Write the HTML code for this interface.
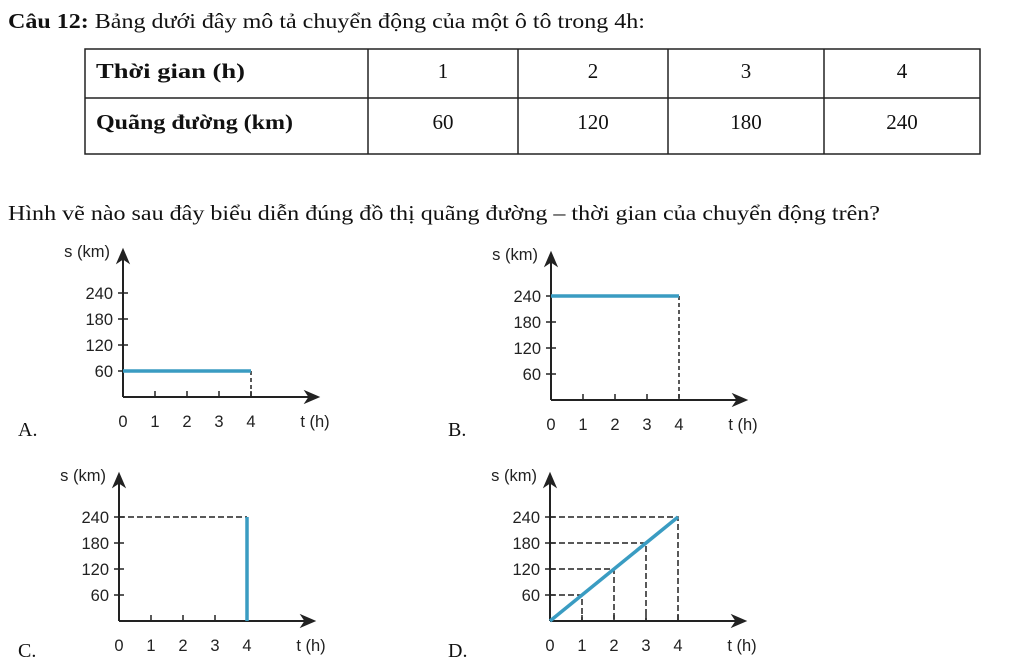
<!DOCTYPE html>
<html><head><meta charset="utf-8"><style>
html,body{margin:0;padding:0;background:#fff;}
svg{display:block}
.s{font-family:"Liberation Serif",serif;fill:#111}
.g{font-family:"Liberation Sans",sans-serif;font-size:16.5px;fill:#222}
</style></head><body>
<svg width="1024" height="670" viewBox="0 0 1024 670" xmlns="http://www.w3.org/2000/svg">
<defs>
<g id="ax">
  <line x1="0" y1="0" x2="0" y2="-140" stroke="#222" stroke-width="2"/>
  <path d="M-6,-134 L0,-148 L6,-134 L0,-138 Z" fill="#222" stroke="#222" stroke-width="1"/>
  <line x1="0" y1="0" x2="190" y2="0" stroke="#222" stroke-width="2"/>
  <path d="M182,-6 L196,0 L182,6 L186,0 Z" fill="#222" stroke="#222" stroke-width="1"/>
  <g stroke="#222" stroke-width="1.5">
    <line x1="-5" y1="-26" x2="5" y2="-26"/><line x1="-5" y1="-52" x2="5" y2="-52"/>
    <line x1="-5" y1="-78" x2="5" y2="-78"/><line x1="-5" y1="-104" x2="5" y2="-104"/>
    <line x1="32" y1="0" x2="32" y2="-6"/><line x1="64" y1="0" x2="64" y2="-6"/>
    <line x1="96" y1="0" x2="96" y2="-6"/><line x1="128" y1="0" x2="128" y2="-6"/>
  </g>
  <g class="g" text-anchor="end">
    <text x="-10" y="-20">60</text><text x="-10" y="-46">120</text>
    <text x="-10" y="-72">180</text><text x="-10" y="-98">240</text>
    <text x="-13" y="-140">s (km)</text>
  </g>
  <g class="g" text-anchor="middle">
    <text x="0" y="30">0</text><text x="32" y="30">1</text><text x="64" y="30">2</text>
    <text x="96" y="30">3</text><text x="128" y="30">4</text>
    <text x="192" y="30">t (h)</text>
  </g>
</g>
</defs>

<text class="s" x="8" y="28" font-size="21" textLength="637" lengthAdjust="spacingAndGlyphs"><tspan font-weight="bold">Câu 12:</tspan> Bảng dưới đây mô tả chuyển động của một ô tô trong 4h:</text>

<g stroke="#222" stroke-width="1.5" fill="none">
  <rect x="85" y="49" width="895" height="105"/>
  <line x1="85" y1="98" x2="980" y2="98"/>
  <line x1="368" y1="49" x2="368" y2="154"/>
  <line x1="518" y1="49" x2="518" y2="154"/>
  <line x1="668" y1="49" x2="668" y2="154"/>
  <line x1="824" y1="49" x2="824" y2="154"/>
</g>
<g class="s" font-size="21">
  <text x="96" y="78" font-weight="bold" textLength="149" lengthAdjust="spacingAndGlyphs">Thời gian (h)</text>
  <text x="96" y="129" font-weight="bold" textLength="197" lengthAdjust="spacingAndGlyphs">Quãng đường (km)</text>
  <g text-anchor="middle">
    <text x="443" y="78">1</text><text x="593" y="78">2</text><text x="746" y="78">3</text><text x="902" y="78">4</text>
    <text x="443" y="129">60</text><text x="593" y="129">120</text><text x="746" y="129">180</text><text x="902" y="129">240</text>
  </g>
</g>

<text class="s" x="8" y="220" font-size="21" textLength="872" lengthAdjust="spacingAndGlyphs">Hình vẽ nào sau đây biểu diễn đúng đồ thị quãng đường – thời gian của chuyển động trên?</text>

<g class="s" font-size="20">
  <text x="18" y="436">A.</text><text x="448" y="436">B.</text>
  <text x="18" y="657">C.</text><text x="448" y="657">D.</text>
</g>

<g transform="translate(123,397)">
  <use href="#ax"/>
  <line x1="128" y1="-26" x2="128" y2="0" stroke="#222" stroke-width="1.5" stroke-dasharray="4,3"/>
  <line x1="0" y1="-26" x2="128" y2="-26" stroke="#3a9cc2" stroke-width="3.5"/>
</g>
<g transform="translate(551,400)">
  <use href="#ax"/>
  <line x1="128" y1="-104" x2="128" y2="0" stroke="#222" stroke-width="1.5" stroke-dasharray="4,3"/>
  <line x1="0" y1="-104" x2="128" y2="-104" stroke="#3a9cc2" stroke-width="3.5"/>
</g>
<g transform="translate(119,621)">
  <use href="#ax"/>
  <line x1="0" y1="-104" x2="128" y2="-104" stroke="#222" stroke-width="1.5" stroke-dasharray="6,3"/>
  <line x1="128" y1="-104" x2="128" y2="0" stroke="#3a9cc2" stroke-width="3.5"/>
</g>
<g transform="translate(550,621)">
  <use href="#ax"/>
  <g stroke="#222" stroke-width="1.5" stroke-dasharray="6,3" fill="none">
    <path d="M0,-26 H32 V0"/><path d="M0,-52 H64 V0"/>
    <path d="M0,-78 H96 V0"/><path d="M0,-104 H128 V0"/>
  </g>
  <line x1="0" y1="0" x2="128" y2="-104" stroke="#3a9cc2" stroke-width="3.5"/>
</g>
</svg>
</body></html>
